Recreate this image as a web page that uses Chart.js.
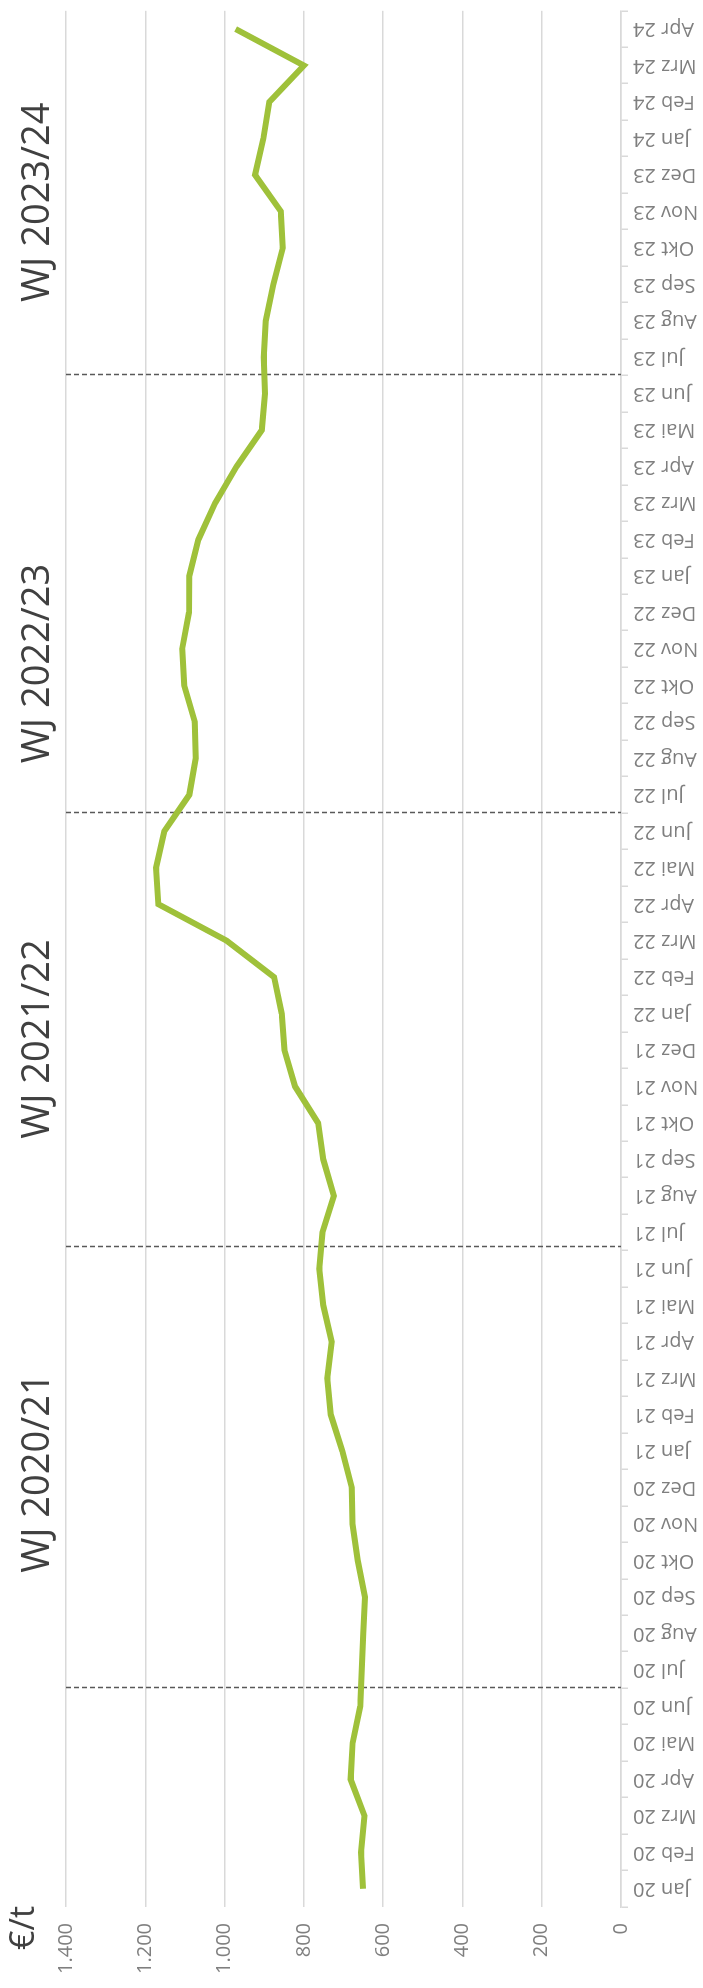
<!DOCTYPE html>
<html>
<head>
<meta charset="utf-8">
<script src="https://cdn.jsdelivr.net/npm/chart.js@4.4.1/dist/chart.umd.min.js"></script>
<style>
  html, body { margin: 0; padding: 0; background: #fff; overflow: hidden; width: 703px; height: 1988px; }
  /* chart is drawn landscape, then turned a quarter to the left */
  #wrap { position: absolute; left: 0; top: 0; width: 1988px; height: 703px;
          transform-origin: 0 0; transform: translate(0, 1988px) rotate(-90deg); }
</style>
</head>
<body>
<div id="wrap"><canvas id="chart" width="1988" height="703"></canvas></div>
<script>
const monthNames = ['Jan', 'Feb', 'Mrz', 'Apr', 'Mai', 'Jun', 'Jul', 'Aug', 'Sep', 'Okt', 'Nov', 'Dez'];
const years = ['20', '21', '22', '23', '24'];

const prices = [
  651, 656, 647, 682, 677, 658, 654, 650, 646, 664, 677, 679,
  703, 732, 741, 730, 751, 761, 753, 724, 751, 764, 822, 849,
  856, 875, 995, 1167, 1173, 1152, 1089, 1073, 1075, 1102, 1107, 1090,
  1089, 1066, 1024, 970, 906, 898, 901, 896, 877, 853, 858, 923,
  902, 887, 800, 972
];

const months = [];
years.forEach(y => monthNames.forEach(m => { if (months.length < prices.length) months.push(m + ' ' + y); }));

const yTicks = [0, 200, 400, 600, 800, 1000, 1200, 1400];

// season labels and where they sit (month index), season breaks between Jun/Jul
const seasons = ['WJ 2020/21', 'WJ 2021/22', 'WJ 2022/23', 'WJ 2023/24'];
const seasonCenters = [11.4, 23.3, 33.6, 46.25];
const seasonBreaks = [5.5, 17.6, 29.5, 41.5];

const fmt = v => String(v).replace(/\B(?=(\d{3})+(?!\d))/g, '.');

const overlay = {
  id: 'overlay',
  beforeDatasetsDraw(chart) {
    const { ctx, chartArea, scales } = chart;
    ctx.save();
    ctx.strokeStyle = '#595959';
    ctx.lineWidth = 1.5;
    ctx.setLineDash([5, 3]);
    seasonBreaks.forEach(b => {
      const x = Math.round(scales.x.getPixelForValue(b)) + 0.5;
      ctx.beginPath();
      ctx.moveTo(x, chartArea.top);
      ctx.lineTo(x, chartArea.bottom);
      ctx.stroke();
    });
    ctx.restore();
  },
  afterDraw(chart) {
    const { ctx, scales } = chart;
    ctx.save();
    ctx.fillStyle = '#404040';
    ctx.textBaseline = 'middle';
    ctx.textAlign = 'center';
    ctx.font = '38px "Open Sans"';
    seasons.forEach((s, i) => {
      ctx.fillText(s, scales.x.getPixelForValue(seasonCenters[i]), 38);
    });
    ctx.textAlign = 'left';
    ctx.font = '34px "Open Sans"';
    ctx.fillText('€/t', 38, 24);
    ctx.restore();
  }
};

new Chart(document.getElementById('chart'), {
  type: 'line',
  data: {
    labels: months,
    datasets: [{
      data: prices,
      borderColor: '#9fc13a',
      borderWidth: 6,
      pointRadius: 0,
      tension: 0,
      fill: false
    }]
  },
  options: {
    responsive: false,
    devicePixelRatio: 1,
    animation: false,
    layout: { padding: { top: 66, right: 4, left: 0, bottom: 0 } },
    plugins: { legend: { display: false }, tooltip: { enabled: false } },
    scales: {
      x: {
        offset: true,
        afterFit: s => { s.height = 82; },
        grid: { offset: true, drawOnChartArea: false, color: '#d9d9d9', lineWidth: 1.5, tickLength: 7 },
        border: { color: '#d9d9d9', width: 1.5 },
        ticks: {
          autoSkip: false, maxRotation: 90, minRotation: 90, padding: 5,
          color: '#7f7f7f', font: { family: 'Open Sans', size: 20 }
        }
      },
      y: {
        min: 0, max: 1400,
        afterFit: s => { s.width = 81; },
        afterBuildTicks: s => { s.ticks = yTicks.map(v => ({ value: v })); },
        grid: { color: '#d9d9d9', lineWidth: 1.5, drawTicks: false },
        border: { display: false },
        ticks: {
          padding: 16, color: '#7f7f7f', font: { family: 'Open Sans', size: 20 },
          callback: v => fmt(v)
        }
      }
    }
  },
  plugins: [overlay]
});
</script>
</body>
</html>
